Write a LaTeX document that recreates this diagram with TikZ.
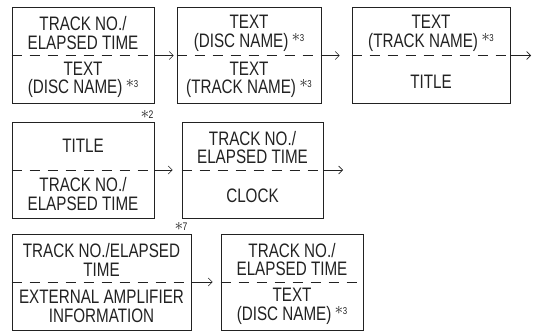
\documentclass[tikz,border=0pt]{standalone}
\usepackage{fontspec}
\usepackage{tikz}
\usetikzlibrary{arrows.meta,calc}
\newfontfamily\panelfont{Liberation Sans}[FakeStretch=0.78]
\definecolor{ink}{HTML}{222222}
\newcommand{\noteref}[1]{\,\raisebox{0.3em}{{\fontsize{18}{18}\selectfont$\ast$}\kern-0.5pt{\fontsize{10}{10}\selectfont #1}}}

\begin{document}
\begin{tikzpicture}[x=1pt,y=-1pt,
  panel/.style={draw=ink,line width=0.8pt,minimum height=96pt,inner sep=0pt},
  caption/.style={text=ink,font=\panelfont\fontsize{19.5}{18.5}\selectfont,align=center,inner sep=0pt},
  divider/.style={draw=ink,line width=0.8pt,dash pattern=on 10pt off 8pt},
  flow/.style={draw=ink,line width=0.6pt,-{Straight Barb[length=4pt,width=8pt]},shorten >=3pt},
  flag/.style={text=ink,font=\panelfont\fontsize{11}{11}\selectfont,inner sep=0pt}]
  \useasboundingbox (0,0) rectangle (536,332);
  % first row
  \node[panel,minimum width=142pt] (b1) at (83,55.5) {};
  \node[panel,minimum width=144pt] (b2) at (249,55.5) {};
  \node[panel,minimum width=158pt] (b3) at (431,55.5) {};
  \node[caption] (b1u) at ($(b1.north)!0.27!(b1.south)$) {TRACK NO./\\ELAPSED TIME};
  \node[caption] (b1l) at ($(b1.north)!0.75!(b1.south)$) {TEXT\\(DISC NAME)\noteref{3}};
  \node[caption] (b2u) at ($(b2.north)!0.27!(b2.south)$) {TEXT\\(DISC NAME)\noteref{3}};
  \node[caption] (b2l) at ($(b2.north)!0.75!(b2.south)$) {TEXT\\(TRACK NAME)\noteref{3}};
  \node[caption] (b3u) at ($(b3.north)!0.27!(b3.south)$) {TEXT\\(TRACK NAME)\noteref{3}};
  \node[caption] (b3l) at ($(b3.north)!0.77!(b3.south)$) {TITLE};
  % second row
  \node[panel,minimum width=142pt] (b4) at (83,170) {};
  \node[panel,minimum width=141pt] (b5) at (252.5,170) {};
  \node[caption] (b4u) at ($(b4.north)!0.25!(b4.south)$) {TITLE};
  \node[caption] (b4l) at ($(b4.north)!0.75!(b4.south)$) {TRACK NO./\\ELAPSED TIME};
  \node[caption] (b5u) at ($(b5.north)!0.27!(b5.south)$) {TRACK NO./\\ELAPSED TIME};
  \node[caption] (b5l) at ($(b5.north)!0.77!(b5.south)$) {CLOCK};
  \node[flag] (n2) at (147,114) {{\fontsize{18}{18}\selectfont$\ast$}\kern-0.5pt 2};
  % third row
  \node[panel,minimum width=179pt] (b6) at (101.5,282) {};
  \node[panel,minimum width=142pt] (b7) at (292,282) {};
  \node[caption] (b6u) at ($(b6.north)!0.27!(b6.south)$) {TRACK NO./ELAPSED\\TIME};
  \node[caption] (b6l) at ($(b6.north)!0.75!(b6.south)$) {EXTERNAL AMPLIFIER\\INFORMATION};
  \node[caption] (b7u) at ($(b7.north)!0.27!(b7.south)$) {TRACK NO./\\ELAPSED TIME};
  \node[caption] (b7l) at ($(b7.north)!0.75!(b7.south)$) {TEXT\\(DISC NAME)\noteref{3}};
  \node[flag] (n7) at (181,226) {{\fontsize{18}{18}\selectfont$\ast$}\kern-0.5pt 7};
  % dashed dividers
  \foreach \b in {b1,b2,b3,b4,b5,b6,b7}
    \draw[divider] (\b.west) -- (\b.east);
  % arrows
  \coordinate (e3) at (531,55.5);
  \coordinate (e5) at (343,170);
  \draw[flow] (b1) -- (b2);
  \draw[flow,shorten >=12pt] (b2) -- (b3);
  \draw[flow,shorten >=0pt] (b3.east) -- (e3);
  \draw[flow,shorten >=9pt] (b4) -- (b5);
  \draw[flow,shorten >=0pt] (b5.east) -- (e5);
  \draw[flow,shorten >=8pt] (b6) -- (b7);
\end{tikzpicture}
\end{document}
